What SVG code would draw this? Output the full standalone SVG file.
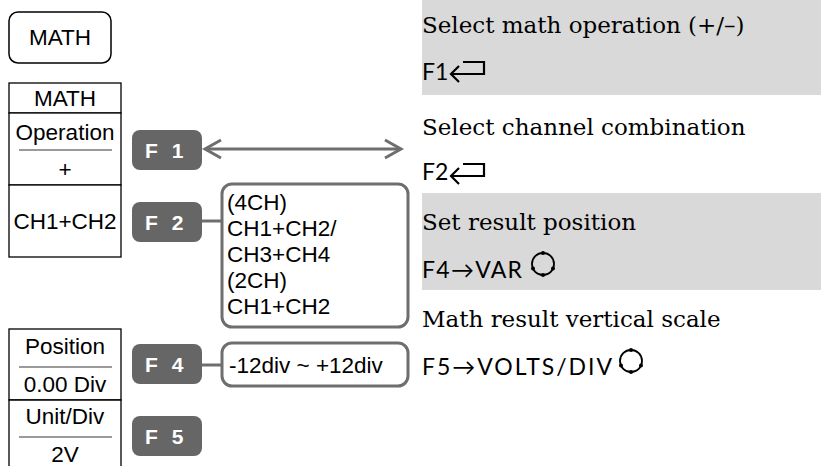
<svg xmlns="http://www.w3.org/2000/svg" width="821" height="466" viewBox="0 0 821 466">
<defs>
<style>
.sans{font-family:"Liberation Sans",Arial,sans-serif;font-size:22.5px;fill:#000}
.c{text-anchor:middle}
.fbtn{fill:#666666}
.ftxt{font-family:"Liberation Sans",Arial,sans-serif;font-size:21px;font-weight:bold;fill:#ffffff;letter-spacing:4px}
.cell{fill:#ffffff;stroke:#000;stroke-width:1.3}
.sep{stroke:#9a9a9a;stroke-width:2}
.box{fill:#ffffff;stroke:#6e6e6e;stroke-width:3}
.conn{stroke:#6e6e6e;stroke-width:3;fill:none}
.band{fill:#d9d9d9}
.serif{font-family:"DejaVu Serif","Liberation Serif",serif;font-size:23px;fill:#000}
.key{font-family:"Lato","Noto Sans",sans-serif;font-size:23px;fill:#000}
.sym{fill:none;stroke:#000;stroke-width:2.2}
</style>
<g id="knob">
<circle cx="0" cy="0" r="11" fill="none" stroke="#000" stroke-width="1.8"/>
<circle cx="0" cy="-11" r="2" fill="#000"/>
<circle cx="0" cy="11" r="2" fill="#000"/>
<circle cx="-10" cy="4.5" r="2" fill="#000"/>
<circle cx="10" cy="4.5" r="2" fill="#000"/>
</g>
</defs>

<rect class="band" x="422" y="0" width="399" height="95"/>
<rect class="band" x="422" y="193" width="399" height="97"/>

<g id="math-button">
<rect x="9" y="12" width="102" height="51" rx="9" fill="#fff" stroke="#000" stroke-width="1.5"/>
<text class="sans c" x="60" y="45">MATH</text>
</g>

<g id="menu-math">
<rect class="cell" x="9" y="83" width="112" height="30"/>
<text class="sans c" x="65" y="106">MATH</text>
</g>
<g id="menu-operation">
<rect class="cell" x="9" y="113" width="112" height="72"/>
<text class="sans c" x="65" y="140">Operation</text>
<line class="sep" x1="19" y1="150" x2="112" y2="150"/>
<text class="sans c" x="65" y="177">+</text>
</g>
<g id="menu-source">
<rect class="cell" x="9" y="185" width="112" height="72"/>
<text class="sans c" x="65" y="229">CH1+CH2</text>
</g>
<g id="menu-position">
<rect class="cell" x="9" y="329" width="112" height="71"/>
<text class="sans c" x="65" y="354">Position</text>
<line class="sep" x1="19" y1="367" x2="112" y2="367"/>
<text class="sans c" x="65" y="392">0.00 Div</text>
</g>
<g id="menu-unit">
<path d="M9,470 V400 H121 V470" fill="#fff" stroke="#000" stroke-width="1.3"/>
<text class="sans c" x="65" y="424">Unit/Div</text>
<line class="sep" x1="19" y1="437" x2="112" y2="437"/>
<text class="sans c" x="65" y="462">2V</text>
</g>

<g id="connectors">
<line class="conn" x1="206" y1="149" x2="400" y2="149"/>
<path class="conn" d="M221,140 L205,149 L221,158"/>
<path class="conn" d="M385,140 L401,149 L385,158"/>
<line class="conn" x1="202" y1="221" x2="222" y2="221"/>
<line class="conn" x1="202" y1="365" x2="222" y2="365"/>
</g>

<g id="f1">
<rect class="fbtn" x="132" y="130" width="70" height="40" rx="8"/>
<text class="ftxt" x="145" y="158">F 1</text>
</g>
<g id="f2">
<rect class="fbtn" x="132" y="202" width="70" height="40" rx="8"/>
<text class="ftxt" x="145" y="230">F 2</text>
</g>
<g id="f4">
<rect class="fbtn" x="132" y="344" width="70" height="40" rx="8"/>
<text class="ftxt" x="145" y="372">F 4</text>
</g>
<g id="f5">
<rect class="fbtn" x="132" y="416" width="70" height="40" rx="8"/>
<text class="ftxt" x="145" y="444">F 5</text>
</g>

<g id="source-options">
<rect class="box" x="222" y="184" width="186" height="143" rx="10"/>
<text class="sans" x="227" y="210">(4CH)</text>
<text class="sans" x="227" y="236">CH1+CH2/</text>
<text class="sans" x="227" y="262">CH3+CH4</text>
<text class="sans" x="227" y="288">(2CH)</text>
<text class="sans" x="227" y="314">CH1+CH2</text>
</g>
<g id="position-range">
<rect class="box" x="222" y="343" width="186" height="43" rx="10"/>
<text class="sans" x="229" y="373">-12div ~ +12div</text>
</g>

<g id="desc-operation">
<text class="serif" x="422" y="33">Select math operation (+/–)</text>
<text class="key" x="422" y="80">F1</text>
<path class="sym" d="M463,62 H484 V74 H451 M459,66 L451,74 L459,82"/>
</g>
<g id="desc-source">
<text class="serif" x="422" y="135">Select channel combination</text>
<text class="key" x="422" y="180">F2</text>
<path class="sym" d="M463,164 H484 V176 H451 M459,168 L451,176 L459,184"/>
</g>
<g id="desc-position">
<text class="serif" x="422" y="230">Set result position</text>
<text class="key" x="422" y="278" textLength="100">F4→VAR</text>
<use href="#knob" x="543" y="264"/>
</g>
<g id="desc-scale">
<text class="serif" x="422" y="327">Math result vertical scale</text>
<text class="key" x="422" y="375" textLength="190">F5→VOLTS/DIV</text>
<use href="#knob" x="631" y="361"/>
</g>
</svg>
